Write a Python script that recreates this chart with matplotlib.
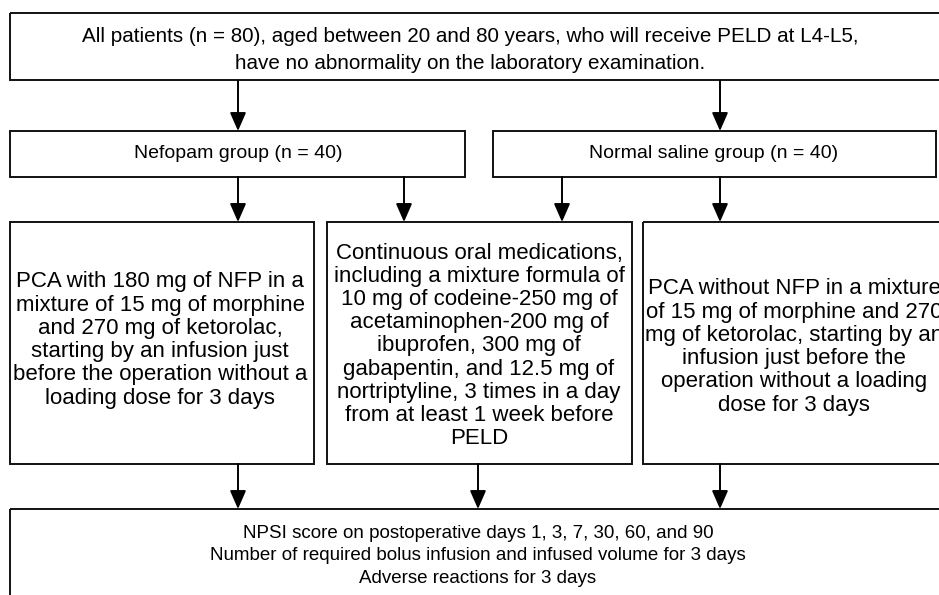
import matplotlib
matplotlib.use("Agg")
import matplotlib.pyplot as plt
from matplotlib.patches import Rectangle

top_text = "All patients (n = 80), aged between 20 and 80 years, who will receive PELD at L4-L5,\nhave no abnormality on the laboratory examination."
group_texts = ["Nefopam group (n = 40)", "Normal saline group (n = 40)"]
arm_texts = [
    "PCA with 180 mg of NFP in a\nmixture of 15 mg of morphine\nand 270 mg of ketorolac,\nstarting by an infusion just\nbefore the operation without a\nloading dose for 3 days",
    "Continuous oral medications,\nincluding a mixture formula of\n10 mg of codeine-250 mg of\nacetaminophen-200 mg of\nibuprofen, 300 mg of\ngabapentin, and 12.5 mg of\nnortriptyline, 3 times in a day\nfrom at least 1 week before\nPELD",
    "PCA without NFP in a mixture\nof 15 mg of morphine and 270\nmg of ketorolac, starting by an\ninfusion just before the\noperation without a loading\ndose for 3 days",
]
outcome_text = "NPSI score on postoperative days 1, 3, 7, 30, 60, and 90\nNumber of required bolus infusion and infused volume for 3 days\nAdverse reactions for 3 days"

W, H = 939, 595
fig = plt.figure(figsize=(W / 100, H / 100), dpi=100)
ax = fig.add_axes([0, 0, 1, 1])
ax.set_xlim(0, W)
ax.set_ylim(H, 0)
ax.axis("off")

font = ["Liberation Sans", "DejaVu Sans"]
LW = 1.4


def box(x0, y0, x1, y1):
    ax.add_patch(Rectangle((x0, y0), x1 - x0, y1 - y0, fill=False,
                           edgecolor="#111111", lw=LW, clip_on=True))


def arrow(x, y0, y1):
    ax.annotate("", xy=(x, y1), xytext=(x, y0),
                arrowprops=dict(arrowstyle="-|>,head_length=0.8,head_width=0.35",
                                color="black", lw=LW, shrinkA=0, shrinkB=0,
                                mutation_scale=14))


# top box
box(10, 13, 945, 80)
ax.text(470, 50, top_text, ha="center", va="center", fontsize=14.9,
        family=font, linespacing=1.55)

# group boxes
box(10, 131, 465, 177)
box(493, 131, 936, 177)
ax.text(238, 154, group_texts[0], ha="center", va="center", fontsize=14, family=font)
ax.text(714, 154, group_texts[1], ha="center", va="center", fontsize=14, family=font)

# arrows top -> groups
arrow(238, 81, 131)
arrow(720, 81, 131)

# arm boxes
box(10, 222, 314, 464)
box(327, 222, 632, 464)
box(643, 222, 960, 464)
ax.text(160, 340, arm_texts[0], ha="center", va="center", fontsize=16,
        family=font, linespacing=1.14)
ax.text(479, 346, arm_texts[1], ha="center", va="center", fontsize=16,
        family=font, linespacing=1.14)
ax.text(794, 347, arm_texts[2], ha="center", va="center", fontsize=16,
        family=font, linespacing=1.14, clip_on=False)

# arrows groups -> arms
arrow(238, 177, 222)
arrow(404, 177, 222)
arrow(562, 177, 222)
arrow(720, 177, 222)

# outcome box
box(10, 509, 960, 620)
ax.text(478, 556, outcome_text, ha="center", va="center", fontsize=13.5,
        family=font, linespacing=1.45)

# arrows arms -> outcome
arrow(238, 464, 509)
arrow(478, 464, 509)
arrow(720, 464, 509)

fig.savefig("out.png", dpi=100)
